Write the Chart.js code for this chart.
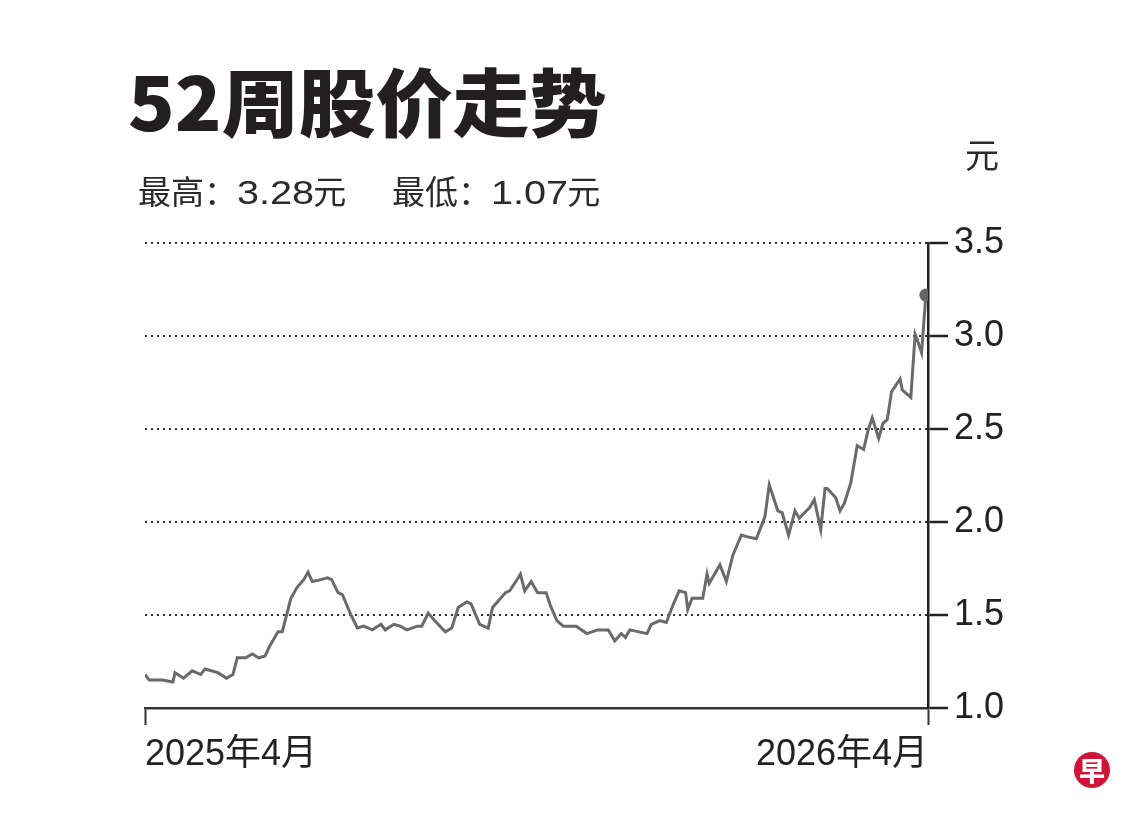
<!DOCTYPE html>
<html>
<head>
<meta charset="utf-8">
<script src="https://cdn.jsdelivr.net/npm/chart.js@4.4.1/dist/chart.umd.min.js"></script>
<style>
    body { margin: 0; background: #fff; }
    .wrap { position: relative; width: 1140px; height: 820px; overflow: hidden; }
    canvas { position: absolute; left: 0; top: 0; }
    .title {
        position: absolute; left: 128px; top: 62px;
        font-family: "Noto Sans CJK SC", sans-serif; font-weight: 900;
        font-size: 74px; line-height: 1; color: #231f20;
        transform: scaleX(1.04); transform-origin: left top; white-space: nowrap;
    }
    .sub {
        position: absolute; top: 176px;
        font-family: "Liberation Sans", "Noto Sans CJK SC", sans-serif;
        font-size: 33px; line-height: 1; color: #2a2a2a; white-space: nowrap;
    }
    .sub .num {
        display: inline-block; transform: scaleX(1.2); transform-origin: left center;
        margin-right: 12px;
    }
    .unit {
        position: absolute; left: 965px; top: 137px;
        font-family: "Noto Sans CJK SC", sans-serif; font-size: 34px; line-height: 1; color: #2a2a2a;
    }
    .logo {
        position: absolute; left: 1074px; top: 752px; width: 36px; height: 36px;
        border-radius: 50%; background: #cf1538; color: #fff;
        font-family: "Noto Sans CJK SC", sans-serif; font-weight: 900; font-size: 26px;
        line-height: 36px; text-align: center;
    }
</style>
</head>
<body>
<div class="wrap">
    <canvas id="priceChart" width="1140" height="820"></canvas>
    <div class="title">52周股价走势</div>
    <div class="sub" style="left:138px">最高：<span class="num">3.28</span>元</div>
    <div class="sub" style="left:392px">最低：<span class="num">1.07</span>元</div>
    <div class="unit">元</div>
    <div class="logo">早</div>
</div>
<script>
// 日期（距2025年4月的天数）和收盘价
const days = [0, 2, 8, 13, 14, 18, 22, 26, 28, 34, 38, 41, 43, 47, 50, 53, 56, 58, 62, 64,
    68, 71, 74, 76, 78, 82, 85, 87, 90, 92, 96, 99, 102, 106, 110, 112, 116, 119, 122, 127,
    129, 132, 135, 140, 143, 146, 150, 152, 156, 160, 162, 168, 170, 174, 175, 177, 180, 183, 187, 189,
    192, 195, 201, 206, 211, 216, 219, 222, 224, 226, 234, 236, 240, 243, 246, 249, 252, 253, 255, 260,
    262, 263, 268, 271, 274, 278, 281, 285, 288, 289, 291, 295, 297, 300, 303, 305, 310, 312, 315, 317,
    318, 322, 324, 326, 329, 332, 335, 337, 339, 342, 344, 346, 348, 352, 353, 357, 359, 360, 362, 364];

const prices = [1.18, 1.15, 1.15, 1.14, 1.19, 1.16, 1.20, 1.18, 1.21, 1.19, 1.16, 1.18, 1.27, 1.27, 1.29, 1.27, 1.28, 1.33, 1.41, 1.41,
    1.59, 1.65, 1.69, 1.73, 1.68, 1.69, 1.70, 1.69, 1.62, 1.61, 1.50, 1.43, 1.44, 1.42, 1.45, 1.42, 1.45, 1.44, 1.42, 1.44,
    1.44, 1.51, 1.47, 1.41, 1.43, 1.54, 1.57, 1.56, 1.45, 1.43, 1.54, 1.62, 1.63, 1.70, 1.72, 1.63, 1.68, 1.62, 1.62, 1.55,
    1.47, 1.44, 1.44, 1.40, 1.42, 1.42, 1.36, 1.40, 1.38, 1.42, 1.40, 1.45, 1.47, 1.46, 1.55, 1.63, 1.62, 1.53, 1.59, 1.59,
    1.72, 1.67, 1.77, 1.68, 1.82, 1.93, 1.92, 1.91, 2.00, 2.03, 2.20, 2.06, 2.05, 1.93, 2.06, 2.02, 2.08, 2.12, 1.96, 2.18,
    2.18, 2.13, 2.06, 2.10, 2.21, 2.41, 2.39, 2.49, 2.56, 2.45, 2.53, 2.55, 2.70, 2.77, 2.71, 2.67, 3.01, 2.98, 2.91, 3.22];

const xTickDays = [0, 365];
const xTickLabels = ['2025年4月', '2026年4月'];
const yTicks = [1.0, 1.5, 2.0, 2.5, 3.0, 3.5];

const lastIndex = prices.length - 1;
const points = days.map((d, i) => ({ x: d, y: prices[i] }));

const tickFont = { family: '"Liberation Sans", "Noto Sans CJK SC", sans-serif', size: 36 };

new Chart(document.getElementById('priceChart'), {
    type: 'line',
    data: {
        datasets: [{
            data: points,
            borderColor: '#6a6a6a',
            borderWidth: 3,
            tension: 0,
            pointRadius: ctx => ctx.dataIndex === lastIndex ? 6.5 : 0,
            pointBackgroundColor: '#666',
            pointBorderWidth: 0
        }]
    },
    options: {
        responsive: false,
        animation: false,
        devicePixelRatio: 1,
        layout: { padding: { left: 145, top: 243, right: 0, bottom: 0 } },
        plugins: { legend: { display: false }, tooltip: { enabled: false } },
        scales: {
            x: {
                type: 'linear',
                min: xTickDays[0],
                max: xTickDays[xTickDays.length - 1],
                afterBuildTicks: scale => { scale.ticks = xTickDays.map(v => ({ value: v })); },
                afterFit: scale => { scale.height = 112; },
                grid: { drawOnChartArea: false, drawTicks: true, tickLength: 17, tickColor: '#333', tickWidth: 2 },
                border: { display: true, color: '#333', width: 2.5 },
                ticks: {
                    align: 'inner',
                    autoSkip: false,
                    maxRotation: 0,
                    padding: 8,
                    color: '#222',
                    font: tickFont,
                    callback: value => xTickLabels[xTickDays.indexOf(value)]
                }
            },
            y: {
                type: 'linear',
                position: 'right',
                min: yTicks[0],
                max: yTicks[yTicks.length - 1],
                afterBuildTicks: scale => { scale.ticks = yTicks.map(v => ({ value: v })); },
                afterFit: scale => { scale.width = 212; },
                grid: {
                    color: ctx => ctx.tick && ctx.tick.value === yTicks[0] ? 'rgba(0,0,0,0)' : '#333',
                    lineWidth: 2,
                    tickLength: 20,
                    tickColor: '#222',
                    tickWidth: 2.5,
                    tickBorderDash: []
                },
                border: { display: true, color: '#222', width: 2.5, dash: [2, 4] },
                ticks: {
                    padding: 6,
                    color: '#222',
                    font: tickFont,
                    callback: value => value.toFixed(1)
                }
            }
        }
    }
});
</script>
</body>
</html>
